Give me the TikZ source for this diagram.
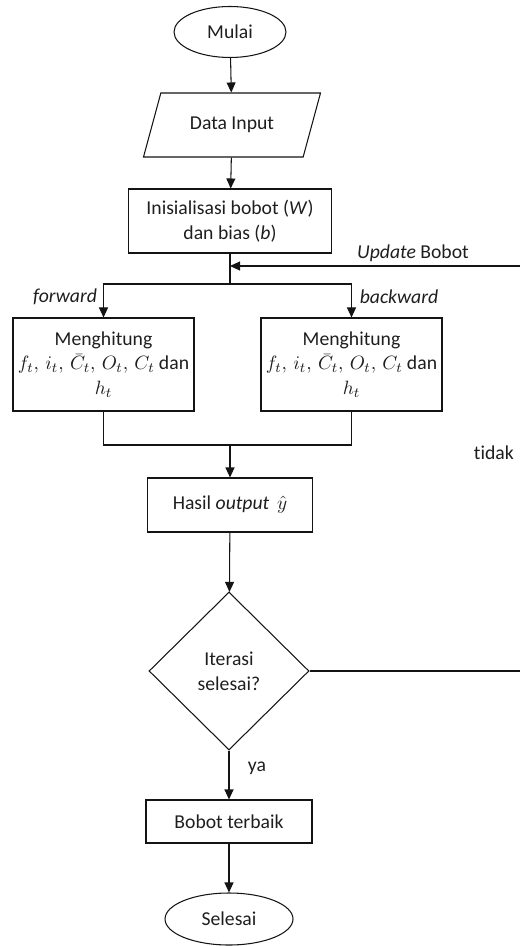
\documentclass[tikz,border=0pt]{standalone}
\usepackage{amsmath,amssymb}
\usepackage{fontspec}
\setmainfont{Carlito}[Ligatures=NoCommon]
\usepackage{tikz}
\usetikzlibrary{arrows.meta,positioning,shapes.geometric,calc}
\definecolor{FCline}{RGB}{20,20,20}
\definecolor{FCtext}{RGB}{30,30,30}
\tikzset{
  every node/.style={font=\fontsize{11.2}{14}\selectfont,text=FCtext},
  terminal/.style={ellipse,draw=FCline,line width=0.6pt,inner sep=0pt,align=center},
  iobox/.style={trapezium,trapezium left angle=57,trapezium right angle=123,
                trapezium stretches=true,
                draw=FCline,line width=0.6pt,inner sep=0pt,align=center},
  procbox/.style={rectangle,draw=FCline,line width=0.6pt,inner sep=0pt,align=center},
  decbox/.style={diamond,draw=FCline,line width=0.6pt,inner sep=0pt,align=center},
  fl/.style={-{Triangle[length=2mm,width=1.8mm]},line width=0.6pt,draw=FCline},
  ln/.style={line width=0.6pt,draw=FCline},
}
\newcommand{\lstmvars}{$f_t,\, i_t,\, \bar{C}_t,\, O_t,\, C_t$ dan\\$h_t$}

\begin{document}
\begin{tikzpicture}
    \useasboundingbox (0,0) rectangle (10.4,-18.92);
    \node[terminal,minimum width=2.24cm,minimum height=1.02cm] (mulai) at (4.6,-0.64) {Mulai};
    \node[iobox,minimum width=3.56cm,minimum height=1.28cm] (input) at (4.64,-2.5) {Data Input};
    \node[procbox,minimum width=4.06cm,minimum height=1.28cm] (init) at (4.6,-4.42) {Inisialisasi bobot (\textit{W})\\dan bias (\textit{b})};
    \coordinate (junc) at (4.6,-5.32);
    \coordinate (split) at (4.6,-5.68);
    \node[procbox,minimum width=3.62cm,minimum height=1.86cm] (fwd) at (2.07,-7.29) {Menghitung\\\lstmvars};
    \node[procbox,minimum width=3.62cm,minimum height=1.86cm] (bwd) at (7.03,-7.29) {Menghitung\\\lstmvars};
    \coordinate (merge) at (4.6,-8.9);
    \node[procbox,minimum width=3.3cm,minimum height=1.08cm] (hasil) at (4.6,-10.1) {Hasil \textit{output}\, $\hat{y}$};
    \node[decbox,minimum width=3.2cm,minimum height=3.16cm] (dec) at (4.58,-13.42) {Iterasi\\selesai?};
    \node[procbox,minimum width=3.32cm,minimum height=0.86cm] (bobot) at (4.58,-16.43) {Bobot terbaik};
    \node[terminal,minimum width=2.56cm,minimum height=1.04cm] (selesai) at (4.58,-18.38) {Selesai};
    \coordinate (rx) at (10.52,-5.32);
    % labels
    \node (upd) at (8.26,-5.06) {\textit{Update} Bobot};
    \node (fwdlbl) at (1.3,-5.94) {\textit{forward}};
    \node (bwdlbl) at (7.98,-5.94) {\textit{backward}};
    \node[anchor=east] (tidak) at (10.4,-9.06) {tidak};
    \node (ya) at (5.14,-15.36) {ya};
    % connectors
    \draw[fl] (mulai) -- (input);
    \draw[fl] (input) -- (init);
    \draw[ln] (init) -- (split);
    \draw[fl] (split) -| (fwd.north);
    \draw[fl] (split) -| (bwd.north);
    \draw[ln] (fwd.south) |- (merge);
    \draw[ln] (bwd.south) |- (merge);
    \draw[fl] (merge) -- (hasil);
    \draw[fl] (hasil) -- (dec);
    \draw[fl] (dec) -- (bobot);
    \draw[fl] (bobot) -- (selesai);
    \draw[fl] (dec.east) -| (rx) -- (junc);
  \end{tikzpicture}
\end{document}
